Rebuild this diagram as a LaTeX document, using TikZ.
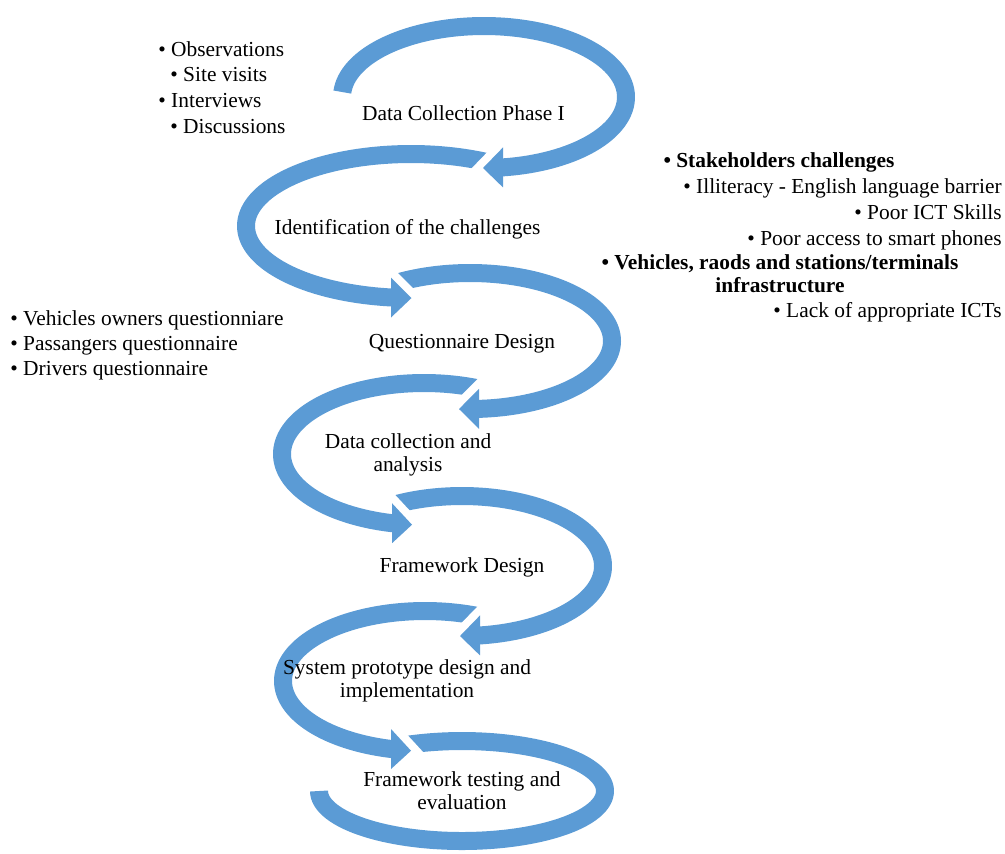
\documentclass[tikz,border=0pt]{standalone}
\usepackage{fontspec}
\setmainfont{Liberation Serif}
\definecolor{bandblue}{RGB}{91,155,213}
\tikzset{
  band/.style={draw=bandblue, line width=9pt, line cap=butt, line join=round},
  head/.style={fill=bandblue},
  gapcut/.style={fill=white},
  steptext/.style={font=\fontsize{10.7}{11.5}\selectfont, inner sep=0pt, align=center},
  bullettext/.style={font=\fontsize{10.7}{13}\selectfont, inner sep=0pt},
  boldtext/.style={font=\fontsize{10.7}{11.5}\selectfont\bfseries, inner sep=0pt, align=center},
}
\newcommand\loopband[6]{\draw[band] plot[domain=#5:#6, samples=100, smooth] ({#1+#3*cos(\x)},{#2+#4*sin(\x)});}
\begin{document}
\begin{tikzpicture}[x=0.5pt,y=-0.5pt]
\useasboundingbox (0,0) rectangle (1005,853);

% loop 7
\loopband{462}{791}{143}{50}{-118.85}{180}
\fill[gapcut] (384.7,710.3) -- (429.1,758.5) -- (403.3,782.2) -- (358.9,734.1) -- cycle;
% loop 6
\loopband{425}{681}{142}{70}{-257.5}{-65.45}
\fill[head] (391,729) -- (391,769) -- (411,750.7) -- cycle;
\fill[gapcut] (486.8,596.9) -- (441.7,643.3) -- (466.8,667.7) -- (511.9,621.3) -- cycle;
% loop 5
\loopband{462}{566}{141}{70}{-119.8}{84}
\fill[head] (480,615.4) -- (480,655.4) -- (460,636) -- cycle;
\fill[gapcut] (385.6,484.6) -- (430.1,532.4) -- (404.5,556.2) -- (360.0,508.4) -- cycle;
% loop 4
\loopband{424}{454}{142}{71}{-258}{-65}
\fill[head] (392,503.2) -- (392,543.2) -- (412,524.7) -- cycle;
\fill[gapcut] (486.0,370.5) -- (440.6,416.1) -- (465.4,440.8) -- (510.8,395.2) -- cycle;
% loop 3
\loopband{470}{341}{142}{68}{-123.3}{87.5}
\fill[head] (479,388.9) -- (479,428.9) -- (459,409) -- cycle;
\fill[gapcut] (383.9,259.1) -- (429.9,305.1) -- (405.1,329.8) -- (359.2,283.9) -- cycle;
% loop 2
\loopband{411}{226}{165}{72}{-264}{-60.6}
\fill[head] (391,277.5) -- (391,317.5) -- (411.5,298) -- cycle;
\fill[gapcut] (509.8,128.9) -- (464.7,175.4) -- (489.8,199.8) -- (534.9,153.3) -- cycle;
% loop 1
\loopband{484}{97}{142}{71}{184}{443}
\fill[head] (503,147.4) -- (503,187.4) -- (483,168) -- cycle;

% step labels
\node[steptext, anchor=base] (t1) at (463.5,120) {Data Collection Phase I};
\node[steptext, anchor=base] (t2) at (407.5,234) {Identification of the challenges};
\node[steptext, anchor=base] (t3) at (462,348) {Questionnaire Design};
\node[steptext] (t4) at (408,454.5) {Data collection and\\analysis};
\node[steptext, anchor=base] (t5) at (462,572) {Framework Design};
\node[steptext] (t6) at (407,681) {System prototype design and\\implementation};
\node[steptext] (t7) at (462,791) {Framework testing and\\evaluation};

% left top list
\node[bullettext, anchor=base west] (o1) at (158,56) {• Observations};
\node[bullettext, anchor=base west] (o2) at (170,81) {• Site visits};
\node[bullettext, anchor=base west] (o3) at (158,107) {• Interviews};
\node[bullettext, anchor=base west] (o4) at (170,133) {• Discussions};

% left lower list
\node[bullettext, anchor=base west] (q1) at (10,325) {• Vehicles owners questionniare};
\node[bullettext, anchor=base west] (q2) at (10,350) {• Passangers questionnaire};
\node[bullettext, anchor=base west] (q3) at (10,375) {• Drivers questionnaire};

% right list
\node[boldtext, anchor=base] (r1) at (779,167) {• Stakeholders challenges};
\node[bullettext, anchor=base east] (r2) at (1002,193) {• Illiteracy - English language barrier};
\node[bullettext, anchor=base east] (r3) at (1002,219) {• Poor ICT Skills};
\node[bullettext, anchor=base east] (r4) at (1002,245) {• Poor access to smart phones};
\node[boldtext] (r5) at (780,274) {• Vehicles, raods and stations/terminals\\infrastructure};
\node[bullettext, anchor=base east] (r6) at (1002,317) {• Lack of appropriate ICTs};
\end{tikzpicture}
\end{document}
